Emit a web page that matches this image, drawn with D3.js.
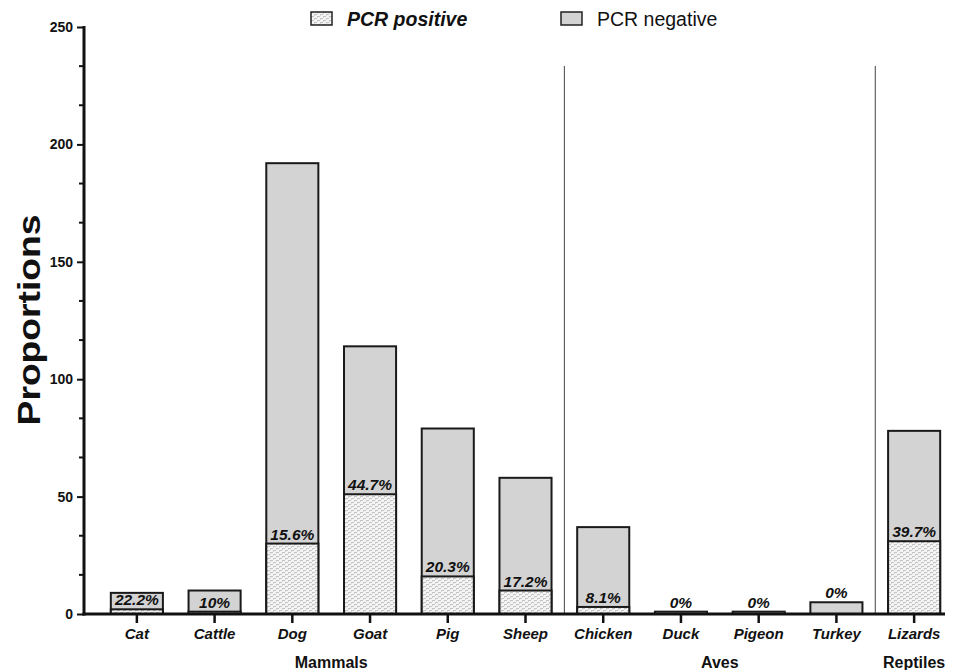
<!DOCTYPE html>
<html lang="en">
<head>
<meta charset="utf-8">
<script src="https://d3js.org/d3.v7.min.js"></script>
<style>
  body { margin: 0; background: #fff; }
  svg text { font-family: "Liberation Sans", Arial, sans-serif; fill: #111; }
</style>
</head>
<body>
<svg id="chart" width="955" height="670"></svg>
<script>
// data
const categories = ["Cat", "Cattle", "Dog", "Goat", "Pig", "Sheep", "Chicken", "Duck", "Pigeon", "Turkey", "Lizards"]
const totals     = [9, 10, 192, 114, 79, 58, 37, 1, 1, 5, 78]
const positives  = [2, 1, 30, 51, 16, 10, 3, 0, 0, 0, 31]
const percentLabels = ["22.2%", "10%", "15.6%", "44.7%", "20.3%", "17.2%", "8.1%", "0%", "0%", "0%", "39.7%"]
const groups = [
  {name: "Mammals", first: "Cat", last: "Sheep"},
  {name: "Aves", first: "Chicken", last: "Turkey"},
  {name: "Reptiles", first: "Lizards", last: "Lizards"}
]
const yTicks = [0, 50, 100, 150, 200, 250]

const svg = d3.select("#chart")

// brick-ish dotted pattern for the PCR positive part
const defs = svg.append("defs")
const pat = defs.append("pattern").attr("id", "dots")
  .attr("patternUnits", "userSpaceOnUse").attr("width", 6).attr("height", 4)
pat.append("rect").attr("width", 6).attr("height", 4).attr("fill", "#f4f4f4")
pat.append("rect").attr("x", 0).attr("y", 0).attr("width", 3).attr("height", 1).attr("fill", "#c4c4c4")
pat.append("rect").attr("x", 3).attr("y", 2).attr("width", 3).attr("height", 1).attr("fill", "#c4c4c4")
pat.append("rect").attr("x", 0).attr("y", 1).attr("width", 1).attr("height", 1).attr("fill", "#d6d6d6")
pat.append("rect").attr("x", 3).attr("y", 3).attr("width", 1).attr("height", 1).attr("fill", "#d6d6d6")

const x = d3.scaleBand().domain(categories).range([98, 953]).paddingInner(0.33).paddingOuter(0.165)
const y = d3.scaleLinear().domain([0, 250]).range([614, 27])
const axisLeft = 84, axisRight = 945

const rows = categories.map((c, i) => ({cat: c, total: totals[i], pos: positives[i], label: percentLabels[i]}))

// group separators
const sepX = [
  (x("Sheep") + x.bandwidth() + x("Chicken")) / 2,
  (x("Turkey") + x.bandwidth() + x("Lizards")) / 2
]
svg.selectAll(".sep").data(sepX).enter().append("line")
  .attr("x1", d => d).attr("x2", d => d)
  .attr("y1", 66).attr("y2", y(0))
  .attr("stroke", "#444").attr("stroke-width", 1)

// negative (whole bar)
svg.selectAll(".neg").data(rows).enter().append("rect")
  .attr("x", d => x(d.cat)).attr("width", x.bandwidth())
  .attr("y", d => y(d.total)).attr("height", d => y(0) - y(d.total))
  .attr("fill", "#d3d3d3").attr("stroke", "#1a1a1a").attr("stroke-width", 2)

// positive part
svg.selectAll(".pos").data(rows.filter(d => d.pos > 0)).enter().append("rect")
  .attr("x", d => x(d.cat)).attr("width", x.bandwidth())
  .attr("y", d => y(d.pos)).attr("height", d => y(0) - y(d.pos))
  .attr("fill", "url(#dots)").attr("stroke", "#1a1a1a").attr("stroke-width", 2)

// percent labels
svg.selectAll(".pct").data(rows).enter().append("text")
  .attr("x", d => x(d.cat) + x.bandwidth() / 2)
  .attr("y", d => (d.pos > 0 ? y(d.pos) : y(d.total)) - 4)
  .attr("text-anchor", "middle")
  .style("font-size", "15.5px").style("font-weight", "bold").style("font-style", "italic")
  .text(d => d.label)

// y axis
const yAxis = svg.append("g").attr("transform", `translate(${axisLeft},0)`)
  .call(d3.axisLeft(y).tickValues(yTicks).tickSize(7).tickPadding(4))
yAxis.select(".domain").remove()
yAxis.selectAll(".tick line").attr("stroke", "#111").attr("stroke-width", 2)
yAxis.selectAll(".tick text").style("font-size", "14px").style("font-weight", "bold")
  .style("font-family", "Liberation Sans, Arial, sans-serif").attr("fill", "#111")
const minor = d3.range(0, 250, 50 / 3).filter(v => v % 50 > 0.01)
svg.append("g").selectAll("line").data(minor).enter().append("line")
  .attr("x1", axisLeft - 5).attr("x2", axisLeft)
  .attr("y1", d => y(d)).attr("y2", d => y(d))
  .attr("stroke", "#111").attr("stroke-width", 2)
svg.append("line").attr("x1", axisLeft).attr("x2", axisLeft)
  .attr("y1", y(250) - 1).attr("y2", y(0) + 1.5)
  .attr("stroke", "#111").attr("stroke-width", 3)

// x axis
const xAxis = svg.append("g").attr("transform", `translate(0,${y(0)})`)
  .call(d3.axisBottom(x).tickSize(9).tickPadding(5))
xAxis.select(".domain").remove()
xAxis.selectAll(".tick line").attr("stroke", "#111").attr("stroke-width", 2.5)
xAxis.selectAll(".tick text").style("font-size", "15px").style("font-weight", "bold")
  .style("font-style", "italic").style("font-family", "Liberation Sans, Arial, sans-serif").attr("fill", "#111")
svg.append("line").attr("x1", axisLeft - 1.5).attr("x2", axisRight)
  .attr("y1", y(0)).attr("y2", y(0))
  .attr("stroke", "#111").attr("stroke-width", 3)

// group labels
svg.selectAll(".grp").data(groups).enter().append("text")
  .attr("x", d => (x(d.first) + x(d.last) + x.bandwidth()) / 2)
  .attr("y", 668)
  .attr("text-anchor", "middle")
  .style("font-size", "16px").style("font-weight", "bold")
  .text(d => d.name)

// y title
svg.append("text")
  .attr("transform", "translate(40,320) rotate(-90) scale(1.2,1)")
  .attr("text-anchor", "middle")
  .style("font-size", "31px").style("font-weight", "bold")
  .text("Proportions")

// legend
const legend = [
  {label: "PCR positive", fill: "url(#dots)", italic: true, bold: true, x: 311},
  {label: "PCR negative", fill: "#d3d3d3", italic: false, bold: false, x: 561}
]
const lg = svg.selectAll(".lg").data(legend).enter().append("g")
  .attr("transform", d => `translate(${d.x},12)`)
lg.append("rect").attr("width", 21).attr("height", 13)
  .attr("fill", d => d.fill).attr("stroke", "#222").attr("stroke-width", 1.5)
lg.append("text").attr("x", 36).attr("y", 14)
  .style("font-size", "19.5px")
  .style("font-weight", d => d.bold ? "bold" : "normal")
  .style("font-style", d => d.italic ? "italic" : "normal")
  .text(d => d.label)
</script>
</body>
</html>
